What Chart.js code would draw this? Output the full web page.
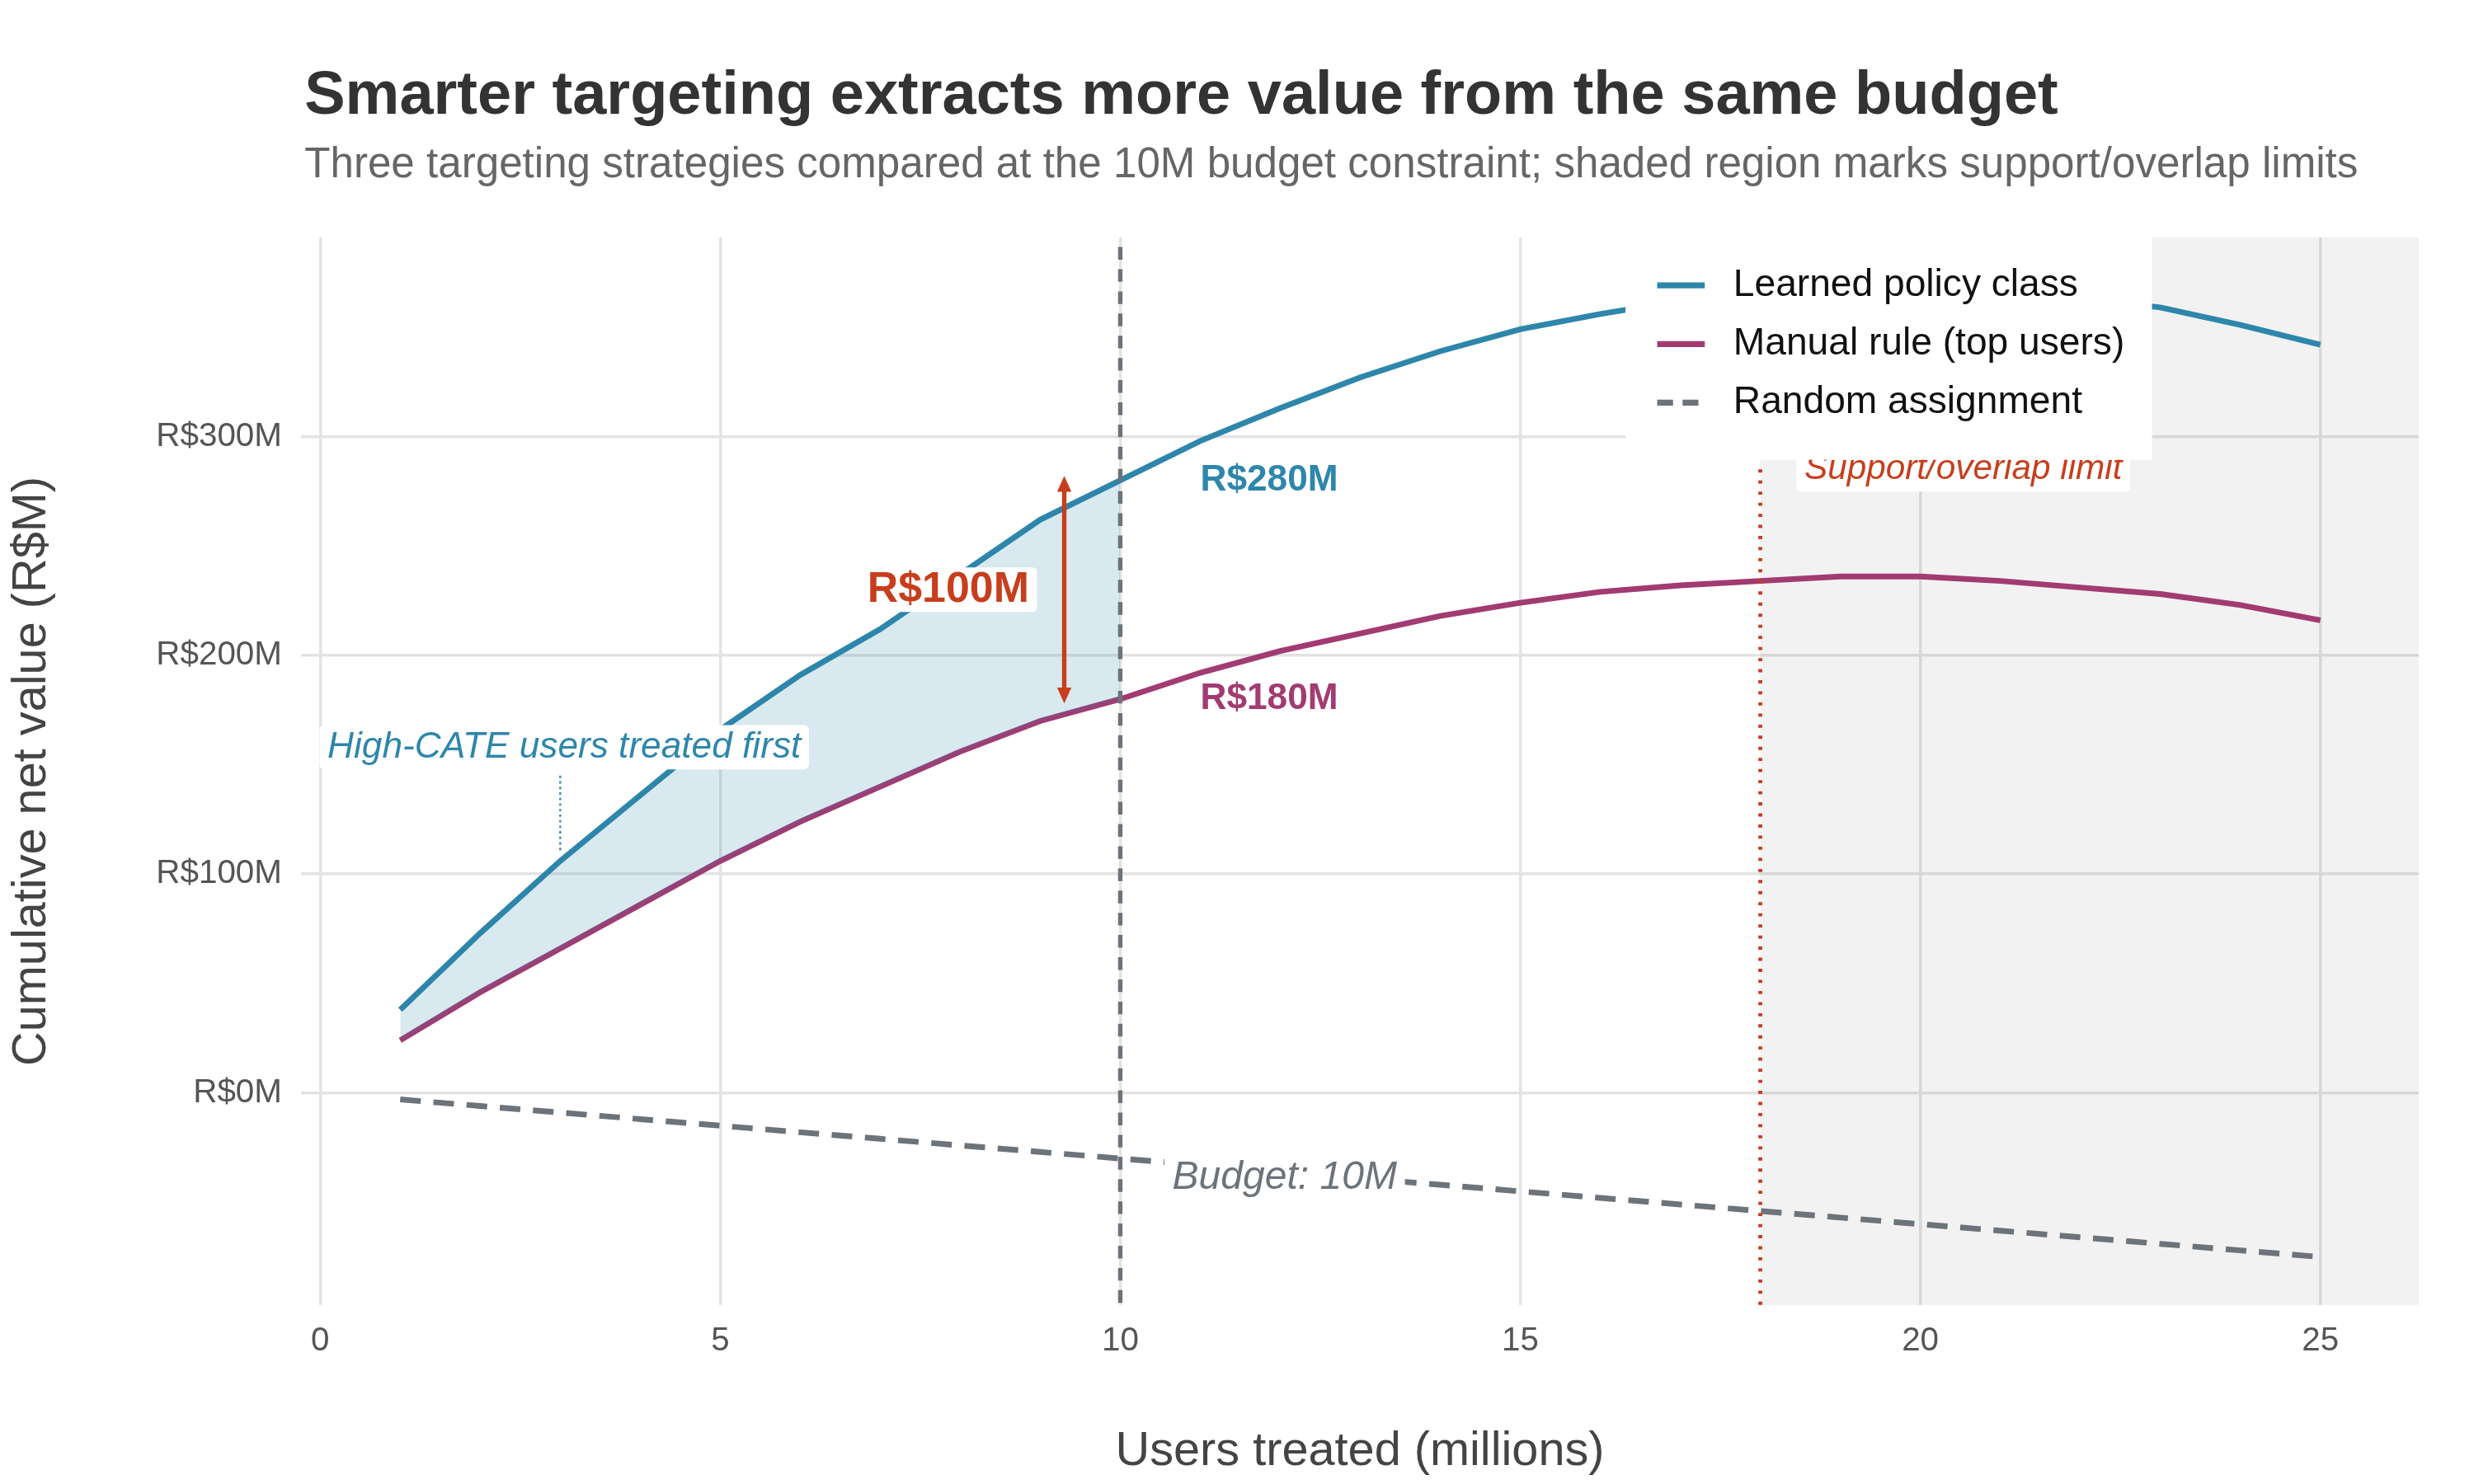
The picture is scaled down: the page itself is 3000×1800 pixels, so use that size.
<!DOCTYPE html>
<html>
<head>
<meta charset="utf-8">
<script src="https://cdn.jsdelivr.net/npm/chart.js@4.4.1/dist/chart.umd.min.js"></script>
<style>
  html, body { margin: 0; padding: 0; background: #fff; }
  #wrap { width: 3000px; height: 1800px; }
</style>
</head>
<body>
<div id="wrap"><canvas id="chart" width="3000" height="1800"></canvas></div>
<script>
// data
const usersTreated = [1,2,3,4,5,6,7,8,9,10,11,12,13,14,15,16,17,18,19,20,21,22,23,24,25];
const learnedValues = [38,73,106,136,166,191,212,237,262,280,298,313,327,339,349,356,362,366,368,368,366,363,359,351,342];
const manualValues = [24,46,66,86,106,124,140,156,170,180,192,202,210,218,224,229,232,234,236,236,234,231,228,223,216];
const randomValues = [-3,-6,-9,-12,-15,-18,-21,-24,-27,-30,-33,-36,-39,-42,-45,-48,-51,-54,-57,-60,-63,-66,-69,-72,-75];
const seriesNames = ['Learned policy class', 'Manual rule (top users)', 'Random assignment'];
const yTickValues = [0, 100, 200, 300];
const budgetX = 10;
const supportX = 18;

const S = 1.923;
const FONT = '"Liberation Sans", Arial, sans-serif';
const BLUE = '#2e86ab', PURPLE = '#a23b72', GREY = '#6c737a', RED = '#c73e1d';

const pts = (vals) => usersTreated.map((x, i) => ({ x: x, y: vals[i] }));
const bandPts = usersTreated.filter(x => x <= budgetX).map((x, i) => ({ x: x, y: learnedValues[i] }));

const overlay = {
  id: 'overlay',
  beforeDatasetsDraw(chart) {
    const { ctx, chartArea: a, scales: { x } } = chart;
    ctx.save();
    ctx.fillStyle = 'rgba(0,0,0,0.05)';
    ctx.fillRect(x.getPixelForValue(supportX), a.top, a.right - x.getPixelForValue(supportX), a.bottom - a.top);
    ctx.restore();
  },
  afterDatasetsDraw(chart) {
    const { ctx, chartArea: a, scales: { x, y } } = chart;
    ctx.save();
    // budget line
    ctx.strokeStyle = GREY; ctx.lineWidth = 2.8 * S; ctx.setLineDash([8 * S, 6 * S]);
    ctx.beginPath(); ctx.moveTo(x.getPixelForValue(budgetX), a.top + 6 * S); ctx.lineTo(x.getPixelForValue(budgetX), a.bottom); ctx.stroke();
    // support line
    ctx.strokeStyle = RED; ctx.lineWidth = 2.5 * S; ctx.setLineDash([2 * S, 5 * S]);
    ctx.beginPath(); ctx.moveTo(x.getPixelForValue(supportX), y.getPixelForValue(285)); ctx.lineTo(x.getPixelForValue(supportX), a.bottom); ctx.stroke();
    ctx.setLineDash([]);

    function label(txt, px, py, font, color, box, align) {
      ctx.font = font; ctx.textAlign = align || 'left'; ctx.textBaseline = 'middle';
      if (box) {
        const w = ctx.measureText(txt).width, pad = 5 * S;
        const lx = ctx.textAlign === 'center' ? px - w / 2 : px;
        ctx.fillStyle = '#fff';
        ctx.beginPath(); ctx.roundRect(lx - pad, py - 14 * S, w + 2 * pad, 28 * S, 3 * S); ctx.fill();
      }
      ctx.fillStyle = color; ctx.fillText(txt, px, py);
    }

    ctx.strokeStyle = BLUE; ctx.lineWidth = 1.2 * S; ctx.setLineDash([1.5 * S, 2 * S]);
    ctx.beginPath(); ctx.moveTo(x.getPixelForValue(3), y.getPixelForValue(145)); ctx.lineTo(x.getPixelForValue(3), y.getPixelForValue(110)); ctx.stroke();
    ctx.setLineDash([]);
    label('High-CATE users treated first', x.getPixelForValue(3.05), y.getPixelForValue(158), 'italic ' + 23 * S + 'px ' + FONT, BLUE, true, 'center');

    // gap arrow
    const ax = x.getPixelForValue(9.3), y1 = y.getPixelForValue(282), y2 = y.getPixelForValue(178);
    ctx.strokeStyle = RED; ctx.fillStyle = RED; ctx.lineWidth = 2.8 * S;
    ctx.beginPath(); ctx.moveTo(ax, y1 + 6 * S); ctx.lineTo(ax, y2 - 6 * S); ctx.stroke();
    [[y1, 1], [y2, -1]].forEach(([py, d]) => {
      ctx.beginPath(); ctx.moveTo(ax, py); ctx.lineTo(ax - 4.5 * S, py + d * 10 * S); ctx.lineTo(ax + 4.5 * S, py + d * 10 * S); ctx.closePath(); ctx.fill();
    });
    label('R$100M', x.getPixelForValue(7.85), y.getPixelForValue(230), 'bold ' + 27 * S + 'px ' + FONT, RED, true, 'center');

    label('R$280M', x.getPixelForValue(11), y.getPixelForValue(280), 'bold ' + 23 * S + 'px ' + FONT, BLUE, false);
    label('R$180M', x.getPixelForValue(11), y.getPixelForValue(180), 'bold ' + 23 * S + 'px ' + FONT, PURPLE, false);
    label('Budget: 10M', x.getPixelForValue(10.65), y.getPixelForValue(-39), 'italic ' + 25 * S + 'px ' + FONT, GREY, true);
    label('Support/overlap limit', x.getPixelForValue(18.55), y.getPixelForValue(285), 'italic ' + 22 * S + 'px ' + FONT, RED, true);

    // legend box
    const lx = 1025 * S, ly = 148 * S;
    ctx.fillStyle = '#fff'; ctx.fillRect(lx, ly, 332 * S, 142 * S);
    const cols = [BLUE, PURPLE, GREY];
    seriesNames.forEach((n, i) => {
      const cy = ly + (32 + i * 37) * S;
      ctx.strokeStyle = cols[i]; ctx.lineWidth = 3.8 * S;
      ctx.setLineDash(i === 2 ? [10 * S, 6 * S] : []);
      ctx.beginPath(); ctx.moveTo(lx + 20 * S, cy); ctx.lineTo(lx + 50 * S, cy); ctx.stroke();
      ctx.setLineDash([]);
      ctx.font = 24 * S + 'px ' + FONT; ctx.fillStyle = '#111'; ctx.textAlign = 'left'; ctx.textBaseline = 'middle';
      ctx.fillText(n, lx + 68 * S, cy);
    });

    // title and subtitle
    ctx.textAlign = 'left'; ctx.textBaseline = 'alphabetic';
    ctx.fillStyle = '#333'; ctx.font = 'bold ' + 38.5 * S + 'px ' + FONT;
    ctx.fillText('Smarter targeting extracts more value from the same budget', 192 * S, 72 * S);
    ctx.fillStyle = '#666'; ctx.font = 26.6 * S + 'px ' + FONT;
    ctx.fillText('Three targeting strategies compared at the 10M budget constraint; shaded region marks support/overlap limits', 192 * S, 112 * S);
    ctx.restore();
  }
};

new Chart(document.getElementById('chart'), {
  type: 'line',
  data: {
    datasets: [
      { label: 'band', data: bandPts, borderWidth: 0, pointRadius: 0, fill: 2, backgroundColor: 'rgba(46,134,171,0.18)' },
      { label: seriesNames[0], data: pts(learnedValues), borderColor: BLUE, borderWidth: 3.6 * S, pointRadius: 0, fill: false },
      { label: seriesNames[1], data: pts(manualValues), borderColor: PURPLE, borderWidth: 3.6 * S, pointRadius: 0, fill: false },
      { label: seriesNames[2], data: pts(randomValues), borderColor: GREY, borderWidth: 3.6 * S, borderDash: [13 * S, 8 * S], pointRadius: 0, fill: false }
    ]
  },
  options: {
    responsive: false,
    animation: false,
    devicePixelRatio: 1,
    layout: { padding: { top: 288, right: 67, left: 0, bottom: 0 } },
    plugins: { legend: { display: false }, title: { display: false }, tooltip: { enabled: false } },
    scales: {
      x: {
        type: 'linear', min: -0.24, max: 26.23,
        afterBuildTicks: (s) => { s.ticks = [0, 5, 10, 15, 20, 25].map(v => ({ value: v })); },
        afterFit: (s) => { s.height = 217; },
        grid: { color: '#e3e3e3', lineWidth: 1.8 * S, drawTicks: false },
        border: { display: false },
        ticks: { color: '#555', font: { family: FONT, size: 21 * S }, padding: 10 * S },
        title: { display: true, text: 'Users treated (millions)', color: '#444', font: { family: FONT, size: 30 * S }, padding: { top: 2 * S } }
      },
      y: {
        min: -97, max: 391,
        afterBuildTicks: (s) => { s.ticks = yTickValues.map(v => ({ value: v })); },
        afterFit: (s) => { s.width = 365; },
        grid: { color: '#e3e3e3', lineWidth: 1.8 * S, drawTicks: false },
        border: { display: false },
        ticks: { color: '#555', font: { family: FONT, size: 21 * S }, padding: 12 * S, callback: v => 'R$' + v + 'M' },
        title: { display: true, text: 'Cumulative net value (R$M)', color: '#444', font: { family: FONT, size: 30 * S }, padding: { bottom: 6 * S } }
      }
    }
  },
  plugins: [overlay]
});
</script>
</body>
</html>
